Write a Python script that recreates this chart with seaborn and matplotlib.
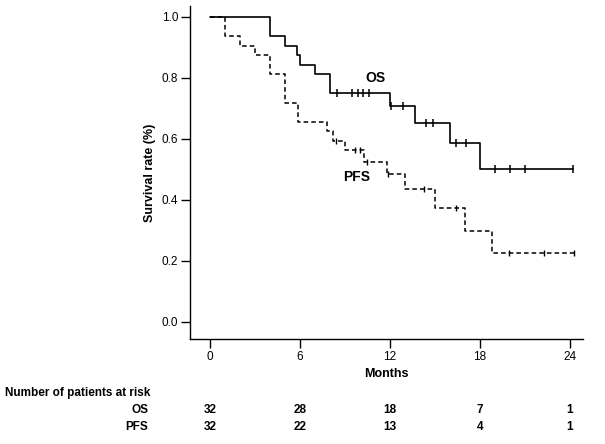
import matplotlib
matplotlib.use("Agg")
import matplotlib.pyplot as plt
import seaborn as sns
import pandas as pd

# Kaplan-Meier step values
os_time = [0, 4, 5, 5.8, 6.0, 7, 8, 12, 13.7, 16, 18, 24.2]
os_surv = [1.0, 0.9375, 0.906, 0.875, 0.844, 0.8125, 0.75, 0.709, 0.653, 0.588, 0.502, 0.502]
os_cens_time = [8.5, 9.5, 9.9, 10.2, 10.6, 12.05, 12.9, 14.4, 14.9, 16.4, 17.1, 19.0, 20.0, 21.0, 24.2]

pfs_time = [0, 1, 2, 3, 4, 5, 5.9, 7.8, 8.2, 9.0, 10.3, 11.8, 13.0, 15.0, 17.0, 18.8, 24.3]
pfs_surv = [1.0, 0.9375, 0.906, 0.875, 0.8125, 0.719, 0.656, 0.625, 0.594, 0.5625, 0.525,
            0.485, 0.435, 0.373, 0.298, 0.225, 0.225]
pfs_cens_time = [8.4, 9.7, 10.0, 10.5, 11.9, 14.3, 16.4, 19.95, 22.3, 24.3]

# patients at risk table
risk_months = [0, 6, 12, 18, 24]
os_risk = [32, 28, 18, 7, 1]
pfs_risk = [32, 22, 13, 4, 1]
x_ticks = [0, 6, 12, 18, 24]
y_ticks = [0.0, 0.2, 0.4, 0.6, 0.8, 1.0]


def surv_at(times, survs, t):
    # value of step function just after time t
    val = survs[0]
    for tt, s in zip(times, survs):
        if tt <= t:
            val = s
    return val


sns.set_style("white")
plt.rcParams["font.family"] = ["Liberation Sans", "DejaVu Sans"]
plt.rcParams["text.color"] = "black"
plt.rcParams["axes.labelcolor"] = "black"
plt.rcParams["xtick.color"] = "black"
plt.rcParams["ytick.color"] = "black"

fig = plt.figure(figsize=(6.05, 4.44), dpi=100)
ax = fig.add_axes([190 / 605, 1 - 339 / 444, (583 - 190) / 605, (339 - 6) / 444])

os_df = pd.DataFrame({"month": os_time, "surv": os_surv})
pfs_df = pd.DataFrame({"month": pfs_time, "surv": pfs_surv})

sns.lineplot(data=pfs_df, x="month", y="surv", ax=ax, color="black", lw=1.1,
             linestyle=(0, (3, 2)), drawstyle="steps-post", estimator=None)
sns.lineplot(data=os_df, x="month", y="surv", ax=ax, color="black", lw=1.2,
             drawstyle="steps-post", estimator=None)

os_c = pd.DataFrame({"month": os_cens_time,
                     "surv": [surv_at(os_time, os_surv, t) for t in os_cens_time]})
pfs_c = pd.DataFrame({"month": pfs_cens_time,
                      "surv": [surv_at(pfs_time, pfs_surv, t) for t in pfs_cens_time]})
sns.scatterplot(data=os_c, x="month", y="surv", ax=ax, marker="|", s=40,
                color="black", linewidth=1.1)
sns.scatterplot(data=pfs_c, x="month", y="surv", ax=ax, marker="|", s=16,
                color="black", linewidth=1.0)

ax.text(11, 0.80, "OS", fontsize=10, fontweight="bold", ha="center", va="center")
ax.text(9.8, 0.475, "PFS", fontsize=10, fontweight="bold", ha="center", va="center")

ax.set_xlim(-1.33, 24.87)
ax.set_ylim(-0.056, 1.036)
ax.set_xticks(x_ticks)
ax.set_yticks(y_ticks)
ax.set_yticklabels([f"{v:.1f}" for v in y_ticks])
ax.tick_params(axis="both", direction="out", length=6.5, width=1, color="black",
               labelsize=8.5, pad=2, bottom=True, left=True)
sns.despine(ax=ax)
for s in ["left", "bottom"]:
    ax.spines[s].set_color("black")
    ax.spines[s].set_linewidth(1)

ax.set_xlabel("Months", fontsize=9, fontweight="bold", labelpad=4)
ax.set_ylabel("Survival rate (%)", fontsize=9, fontweight="bold", labelpad=4)

# number at risk table
tr = ax.get_xaxis_transform()
fig.text(5 / 605, 1 - 393 / 444, "Number of patients at risk", fontsize=8.5,
         fontweight="bold", va="center")
fig.text(148 / 605, 1 - 410 / 444, "OS", fontsize=8.5, fontweight="bold",
         va="center", ha="right")
fig.text(148 / 605, 1 - 427 / 444, "PFS", fontsize=8.5, fontweight="bold",
         va="center", ha="right")
for m, a, b in zip(risk_months, os_risk, pfs_risk):
    ax.text(m, (339 - 410) / 333, str(a), transform=tr, ha="center", va="center",
            fontsize=8.5, fontweight="bold", clip_on=False)
    ax.text(m, (339 - 427) / 333, str(b), transform=tr, ha="center", va="center",
            fontsize=8.5, fontweight="bold", clip_on=False)

fig.savefig("out.png", dpi=100)
